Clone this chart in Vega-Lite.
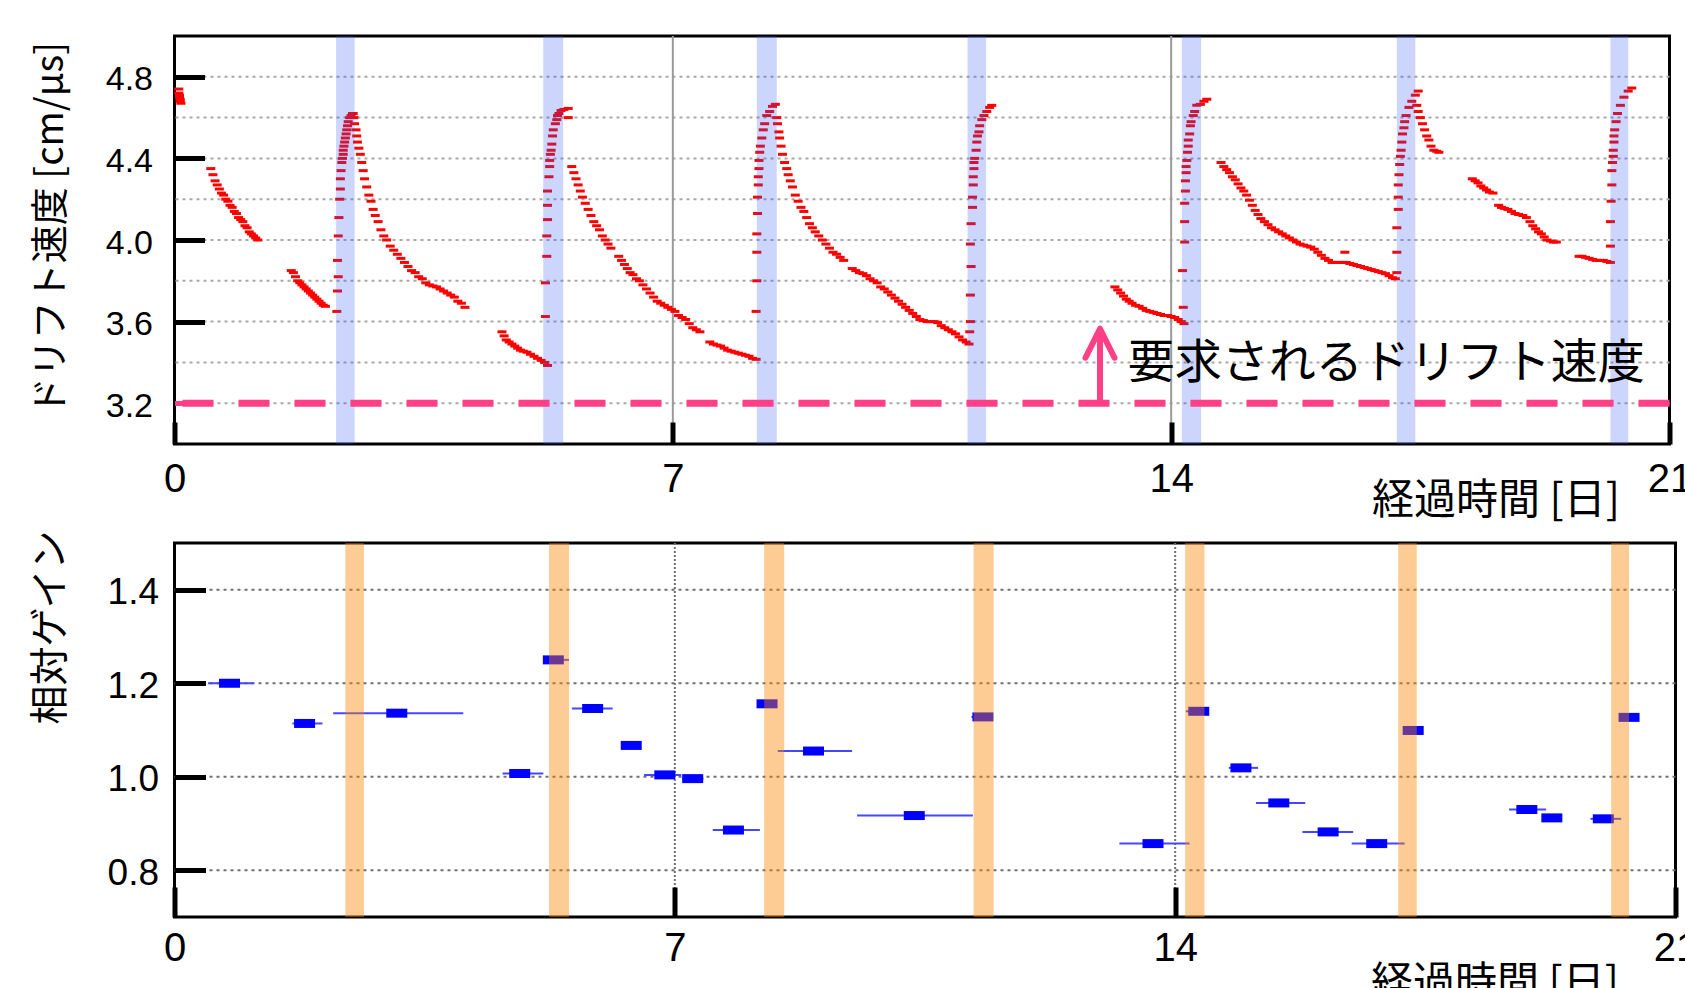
{
"$schema":"https://vega.github.io/schema/vega-lite/v6.json",
"padding":{"left":29.5,"top":33,"right":0,"bottom":0},"autosize":{"type":"pad"},"background":"white",
"bounds":"flush","spacing":99,
"config":{"view":{"stroke":"black","strokeWidth":3},"axis":{"labelColor":"black","titleColor":"black","tickColor":"black","domain":false,"grid":false,"labelFont":"Liberation Sans","titleFont":"Noto Sans CJK JP","titleFontWeight":"normal","labelFlush":false,"labelOverlap":false,"labelBound":false,"zindex":3,"tickCap":"butt"}},
"datasets":{
"drift":[
{"d":0.06,"v":4.74},{"d":0.06,"v":4.72},{"d":0.07,"v":4.71},{"d":0.07,"v":4.70},{"d":0.08,"v":4.69},{"d":0.08,"v":4.68},{"d":0.09,"v":4.67},
{"d":0.51,"v":4.35},{"d":0.54,"v":4.32},{"d":0.57,"v":4.29},{"d":0.60,"v":4.27},{"d":0.63,"v":4.25},{"d":0.66,"v":4.23},{"d":0.69,"v":4.22},{"d":0.72,"v":4.20},{"d":0.75,"v":4.19},{"d":0.78,"v":4.17},{"d":0.81,"v":4.16},{"d":0.84,"v":4.14},{"d":0.87,"v":4.13},{"d":0.90,"v":4.11},{"d":0.93,"v":4.10},{"d":0.96,"v":4.09},{"d":0.99,"v":4.07},{"d":1.02,"v":4.06},{"d":1.05,"v":4.04},{"d":1.08,"v":4.03},{"d":1.11,"v":4.02},{"d":1.14,"v":4.01},{"d":1.17,"v":4.00},
{"d":1.64,"v":3.85},{"d":1.67,"v":3.84},{"d":1.70,"v":3.82},{"d":1.73,"v":3.80},{"d":1.76,"v":3.79},{"d":1.79,"v":3.78},{"d":1.82,"v":3.77},{"d":1.85,"v":3.76},{"d":1.88,"v":3.75},{"d":1.91,"v":3.74},{"d":1.94,"v":3.73},{"d":1.97,"v":3.72},{"d":2.00,"v":3.71},{"d":2.03,"v":3.70},{"d":2.06,"v":3.69},{"d":2.09,"v":3.68},{"d":2.12,"v":3.675},
{"d":2.28,"v":3.65},{"d":2.29,"v":3.75},{"d":2.30,"v":3.82},{"d":2.29,"v":3.90},{"d":2.30,"v":4.02},{"d":2.31,"v":4.11},{"d":2.32,"v":4.20},{"d":2.33,"v":4.25},{"d":2.33,"v":4.30},{"d":2.34,"v":4.34},{"d":2.35,"v":4.38},{"d":2.36,"v":4.40},{"d":2.37,"v":4.42},{"d":2.37,"v":4.44},{"d":2.38,"v":4.46},{"d":2.39,"v":4.48},{"d":2.40,"v":4.50},{"d":2.41,"v":4.52},{"d":2.42,"v":4.54},{"d":2.43,"v":4.56},{"d":2.44,"v":4.58},{"d":2.46,"v":4.60},{"d":2.48,"v":4.61},{"d":2.50,"v":4.62},
{"d":2.51,"v":4.62},{"d":2.52,"v":4.60},{"d":2.53,"v":4.57},{"d":2.55,"v":4.54},{"d":2.56,"v":4.51},{"d":2.57,"v":4.48},{"d":2.59,"v":4.45},{"d":2.61,"v":4.42},{"d":2.63,"v":4.38},{"d":2.65,"v":4.34},{"d":2.67,"v":4.30},{"d":2.70,"v":4.26},{"d":2.73,"v":4.22},{"d":2.76,"v":4.19},{"d":2.79,"v":4.15},{"d":2.82,"v":4.12},{"d":2.86,"v":4.09},{"d":2.90,"v":4.05},{"d":2.94,"v":4.02},{"d":2.98,"v":4.00},{"d":3.03,"v":3.97},{"d":3.08,"v":3.95},{"d":3.13,"v":3.93},{"d":3.18,"v":3.91},{"d":3.23,"v":3.89},{"d":3.28,"v":3.87},{"d":3.33,"v":3.85},{"d":3.38,"v":3.84},{"d":3.43,"v":3.82},{"d":3.48,"v":3.81},{"d":3.53,"v":3.79},{"d":3.58,"v":3.78},{"d":3.63,"v":3.775},{"d":3.68,"v":3.77},{"d":3.73,"v":3.76},{"d":3.78,"v":3.75},{"d":3.83,"v":3.74},{"d":3.88,"v":3.73},{"d":3.93,"v":3.72},{"d":3.98,"v":3.70},{"d":4.03,"v":3.69},{"d":4.08,"v":3.67},
{"d":4.60,"v":3.55},{"d":4.63,"v":3.53},{"d":4.66,"v":3.51},{"d":4.70,"v":3.50},{"d":4.74,"v":3.49},{"d":4.78,"v":3.48},{"d":4.82,"v":3.47},{"d":4.86,"v":3.46},{"d":4.90,"v":3.455},{"d":4.95,"v":3.45},{"d":5.00,"v":3.44},{"d":5.05,"v":3.43},{"d":5.10,"v":3.42},{"d":5.15,"v":3.41},{"d":5.20,"v":3.40},{"d":5.24,"v":3.385},
{"d":5.21,"v":3.625},{"d":5.21,"v":3.79},{"d":5.23,"v":3.92},{"d":5.23,"v":4.02},{"d":5.24,"v":4.10},{"d":5.24,"v":4.17},{"d":5.24,"v":4.24},{"d":5.26,"v":4.31},{"d":5.27,"v":4.36},{"d":5.27,"v":4.39},{"d":5.28,"v":4.42},{"d":5.29,"v":4.44},{"d":5.30,"v":4.47},{"d":5.31,"v":4.51},{"d":5.32,"v":4.54},{"d":5.35,"v":4.57},{"d":5.37,"v":4.59},{"d":5.38,"v":4.61},{"d":5.40,"v":4.62},{"d":5.43,"v":4.635},{"d":5.47,"v":4.64},{"d":5.53,"v":4.645},{"d":5.53,"v":4.60},
{"d":5.58,"v":4.36},{"d":5.61,"v":4.33},{"d":5.64,"v":4.30},{"d":5.67,"v":4.27},{"d":5.70,"v":4.24},{"d":5.73,"v":4.21},{"d":5.77,"v":4.18},{"d":5.81,"v":4.15},{"d":5.85,"v":4.12},{"d":5.89,"v":4.09},{"d":5.93,"v":4.07},{"d":5.97,"v":4.05},{"d":6.01,"v":4.02},{"d":6.05,"v":4.00},{"d":6.09,"v":3.98},{"d":6.13,"v":3.96},
{"d":6.24,"v":3.92},{"d":6.28,"v":3.90},{"d":6.32,"v":3.88},{"d":6.36,"v":3.86},{"d":6.40,"v":3.84},{"d":6.44,"v":3.83},{"d":6.49,"v":3.81},{"d":6.53,"v":3.80},{"d":6.58,"v":3.78},{"d":6.63,"v":3.76},{"d":6.68,"v":3.74},{"d":6.73,"v":3.72},{"d":6.78,"v":3.70},{"d":6.83,"v":3.69},{"d":6.88,"v":3.68},{"d":6.93,"v":3.67},{"d":6.98,"v":3.66},{"d":7.03,"v":3.65},{"d":7.08,"v":3.63},{"d":7.13,"v":3.62},{"d":7.18,"v":3.61},{"d":7.23,"v":3.59},{"d":7.28,"v":3.57},{"d":7.33,"v":3.56},{"d":7.38,"v":3.55},
{"d":7.52,"v":3.50},{"d":7.57,"v":3.49},{"d":7.62,"v":3.485},{"d":7.67,"v":3.48},{"d":7.72,"v":3.47},{"d":7.77,"v":3.46},{"d":7.82,"v":3.455},{"d":7.87,"v":3.45},{"d":7.92,"v":3.445},{"d":7.97,"v":3.44},{"d":8.02,"v":3.435},{"d":8.07,"v":3.43},{"d":8.12,"v":3.42},{"d":8.17,"v":3.415},
{"d":8.17,"v":3.65},{"d":8.18,"v":3.80},{"d":8.18,"v":3.94},{"d":8.18,"v":4.03},{"d":8.19,"v":4.13},{"d":8.19,"v":4.21},{"d":8.20,"v":4.27},{"d":8.20,"v":4.31},{"d":8.21,"v":4.35},{"d":8.21,"v":4.39},{"d":8.22,"v":4.43},{"d":8.23,"v":4.46},{"d":8.25,"v":4.50},{"d":8.27,"v":4.54},{"d":8.29,"v":4.57},{"d":8.32,"v":4.61},{"d":8.36,"v":4.63},{"d":8.40,"v":4.655},{"d":8.44,"v":4.665},
{"d":8.46,"v":4.60},{"d":8.47,"v":4.57},{"d":8.49,"v":4.53},{"d":8.50,"v":4.50},{"d":8.52,"v":4.46},{"d":8.54,"v":4.42},{"d":8.57,"v":4.38},{"d":8.60,"v":4.35},{"d":8.62,"v":4.32},{"d":8.65,"v":4.29},{"d":8.68,"v":4.26},{"d":8.72,"v":4.22},{"d":8.76,"v":4.19},{"d":8.80,"v":4.16},{"d":8.84,"v":4.14},{"d":8.88,"v":4.11},{"d":8.92,"v":4.08},{"d":8.96,"v":4.06},{"d":9.00,"v":4.04},{"d":9.05,"v":4.02},{"d":9.10,"v":4.00},{"d":9.15,"v":3.98},{"d":9.20,"v":3.96},{"d":9.25,"v":3.94},{"d":9.30,"v":3.93},{"d":9.35,"v":3.915},{"d":9.40,"v":3.90},
{"d":9.52,"v":3.86},{"d":9.57,"v":3.85},{"d":9.62,"v":3.84},{"d":9.67,"v":3.835},{"d":9.72,"v":3.825},{"d":9.77,"v":3.81},{"d":9.82,"v":3.80},{"d":9.87,"v":3.79},{"d":9.92,"v":3.77},{"d":9.97,"v":3.76},{"d":10.02,"v":3.745},{"d":10.07,"v":3.73},{"d":10.12,"v":3.715},{"d":10.17,"v":3.70},{"d":10.22,"v":3.685},{"d":10.27,"v":3.67},{"d":10.32,"v":3.655},{"d":10.37,"v":3.64},{"d":10.42,"v":3.625},{"d":10.47,"v":3.61},{"d":10.52,"v":3.605},{"d":10.57,"v":3.60},{"d":10.62,"v":3.60},{"d":10.67,"v":3.60},{"d":10.72,"v":3.595},{"d":10.77,"v":3.58},{"d":10.82,"v":3.57},{"d":10.87,"v":3.56},{"d":10.92,"v":3.55},{"d":10.97,"v":3.54},{"d":11.02,"v":3.525},{"d":11.07,"v":3.51},{"d":11.12,"v":3.50},{"d":11.16,"v":3.49},
{"d":11.17,"v":3.55},{"d":11.18,"v":3.60},{"d":11.18,"v":3.73},{"d":11.19,"v":3.87},{"d":11.18,"v":3.98},{"d":11.19,"v":4.08},{"d":11.21,"v":4.16},{"d":11.21,"v":4.21},{"d":11.22,"v":4.27},{"d":11.22,"v":4.31},{"d":11.23,"v":4.35},{"d":11.23,"v":4.38},{"d":11.24,"v":4.40},{"d":11.26,"v":4.44},{"d":11.27,"v":4.48},{"d":11.28,"v":4.51},{"d":11.30,"v":4.53},{"d":11.31,"v":4.56},{"d":11.34,"v":4.59},{"d":11.37,"v":4.61},{"d":11.41,"v":4.63},{"d":11.45,"v":4.65},{"d":11.48,"v":4.66},
{"d":13.21,"v":3.77},{"d":13.25,"v":3.755},{"d":13.29,"v":3.74},{"d":13.33,"v":3.725},{"d":13.37,"v":3.71},{"d":13.41,"v":3.70},{"d":13.45,"v":3.69},{"d":13.50,"v":3.68},{"d":13.55,"v":3.675},{"d":13.60,"v":3.665},{"d":13.65,"v":3.655},{"d":13.70,"v":3.65},{"d":13.75,"v":3.645},{"d":13.80,"v":3.64},{"d":13.85,"v":3.635},{"d":13.90,"v":3.63},{"d":13.95,"v":3.63},{"d":14.00,"v":3.625},{"d":14.05,"v":3.62},{"d":14.10,"v":3.61},{"d":14.14,"v":3.60},{"d":14.18,"v":3.59},
{"d":14.17,"v":3.67},{"d":14.16,"v":3.85},{"d":14.19,"v":3.99},{"d":14.19,"v":4.09},{"d":14.19,"v":4.18},{"d":14.20,"v":4.24},{"d":14.20,"v":4.29},{"d":14.21,"v":4.33},{"d":14.21,"v":4.36},{"d":14.22,"v":4.39},{"d":14.23,"v":4.43},{"d":14.24,"v":4.46},{"d":14.24,"v":4.49},{"d":14.26,"v":4.52},{"d":14.27,"v":4.56},{"d":14.28,"v":4.58},{"d":14.31,"v":4.61},{"d":14.33,"v":4.63},{"d":14.36,"v":4.66},{"d":14.41,"v":4.665},{"d":14.46,"v":4.68},{"d":14.50,"v":4.69},
{"d":14.70,"v":4.38},{"d":14.74,"v":4.36},{"d":14.78,"v":4.345},{"d":14.82,"v":4.33},{"d":14.86,"v":4.31},{"d":14.90,"v":4.295},{"d":14.94,"v":4.275},{"d":14.98,"v":4.255},{"d":15.02,"v":4.24},{"d":15.06,"v":4.22},{"d":15.10,"v":4.195},{"d":15.14,"v":4.17},{"d":15.18,"v":4.145},{"d":15.22,"v":4.125},{"d":15.26,"v":4.105},{"d":15.31,"v":4.09},{"d":15.36,"v":4.075},{"d":15.41,"v":4.06},{"d":15.46,"v":4.05},{"d":15.51,"v":4.04},{"d":15.56,"v":4.03},{"d":15.61,"v":4.02},{"d":15.66,"v":4.01},{"d":15.71,"v":4.00},{"d":15.76,"v":3.99},{"d":15.81,"v":3.98},{"d":15.86,"v":3.975},{"d":15.91,"v":3.97},{"d":15.96,"v":3.965},{"d":16.01,"v":3.955},{"d":16.06,"v":3.94},{"d":16.11,"v":3.925},{"d":16.16,"v":3.91},{"d":16.21,"v":3.90},{"d":16.26,"v":3.89},{"d":16.31,"v":3.89},{"d":16.36,"v":3.89},{"d":16.41,"v":3.89},{"d":16.46,"v":3.89},{"d":16.51,"v":3.885},{"d":16.56,"v":3.88},{"d":16.61,"v":3.875},{"d":16.66,"v":3.87},{"d":16.71,"v":3.865},{"d":16.76,"v":3.86},{"d":16.81,"v":3.855},{"d":16.86,"v":3.85},{"d":16.91,"v":3.845},{"d":16.96,"v":3.84},{"d":17.01,"v":3.835},{"d":17.06,"v":3.825},{"d":17.11,"v":3.815},{"d":17.15,"v":3.81},
{"d":16.44,"v":3.94},
{"d":17.17,"v":3.84},{"d":17.17,"v":3.94},{"d":17.17,"v":4.06},{"d":17.19,"v":4.15},{"d":17.19,"v":4.21},{"d":17.19,"v":4.27},{"d":17.20,"v":4.32},{"d":17.21,"v":4.37},{"d":17.22,"v":4.41},{"d":17.23,"v":4.44},{"d":17.24,"v":4.48},{"d":17.25,"v":4.52},{"d":17.27,"v":4.55},{"d":17.28,"v":4.58},{"d":17.30,"v":4.61},{"d":17.34,"v":4.65},{"d":17.38,"v":4.68},{"d":17.43,"v":4.71},{"d":17.47,"v":4.73},
{"d":17.45,"v":4.66},{"d":17.47,"v":4.63},{"d":17.50,"v":4.60},{"d":17.53,"v":4.57},{"d":17.56,"v":4.54},{"d":17.59,"v":4.51},{"d":17.62,"v":4.49},{"d":17.65,"v":4.46},{"d":17.69,"v":4.44},{"d":17.73,"v":4.435},{"d":17.76,"v":4.43},
{"d":18.23,"v":4.30},{"d":18.27,"v":4.29},{"d":18.31,"v":4.28},{"d":18.35,"v":4.265},{"d":18.39,"v":4.255},{"d":18.43,"v":4.245},{"d":18.47,"v":4.235},{"d":18.52,"v":4.23},
{"d":18.60,"v":4.17},{"d":18.64,"v":4.16},{"d":18.68,"v":4.155},{"d":18.73,"v":4.15},{"d":18.78,"v":4.14},{"d":18.83,"v":4.13},{"d":18.88,"v":4.125},{"d":18.94,"v":4.12},{"d":18.99,"v":4.11},{"d":19.04,"v":4.09},{"d":19.08,"v":4.07},{"d":19.12,"v":4.055},{"d":19.16,"v":4.04},{"d":19.20,"v":4.03},{"d":19.24,"v":4.015},{"d":19.28,"v":4.00},{"d":19.33,"v":3.995},{"d":19.37,"v":3.99},{"d":19.41,"v":3.99},
{"d":19.73,"v":3.92},{"d":19.77,"v":3.92},{"d":19.82,"v":3.915},{"d":19.87,"v":3.91},{"d":19.92,"v":3.905},{"d":19.97,"v":3.90},{"d":20.02,"v":3.90},{"d":20.07,"v":3.90},{"d":20.12,"v":3.895},{"d":20.17,"v":3.89},
{"d":20.17,"v":3.97},{"d":20.17,"v":4.09},{"d":20.18,"v":4.19},{"d":20.19,"v":4.27},{"d":20.19,"v":4.34},{"d":20.20,"v":4.38},{"d":20.21,"v":4.41},{"d":20.21,"v":4.44},{"d":20.22,"v":4.48},{"d":20.22,"v":4.51},{"d":20.23,"v":4.54},{"d":20.25,"v":4.58},{"d":20.27,"v":4.62},{"d":20.31,"v":4.66},{"d":20.36,"v":4.70},{"d":20.42,"v":4.73},{"d":20.47,"v":4.745}
],
"gain":[
{"d":0.77,"v":1.200,"lo":0.47,"hi":1.11},
{"d":1.82,"v":1.114,"lo":1.65,"hi":2.07},
{"d":3.11,"v":1.136,"lo":2.22,"hi":4.04},
{"d":4.83,"v":1.007,"lo":4.59,"hi":5.16},
{"d":5.30,"v":1.250,"lo":5.17,"hi":5.52},
{"d":5.85,"v":1.146,"lo":5.56,"hi":6.13},
{"d":6.39,"v":1.067,"lo":6.30,"hi":6.48},
{"d":6.86,"v":1.004,"lo":6.57,"hi":7.09},
{"d":7.25,"v":0.996,"lo":7.10,"hi":7.40},
{"d":7.82,"v":0.886,"lo":7.53,"hi":8.19},
{"d":8.29,"v":1.156,"lo":8.15,"hi":8.38},
{"d":8.94,"v":1.055,"lo":8.44,"hi":9.48},
{"d":10.35,"v":0.917,"lo":9.55,"hi":11.17},
{"d":11.31,"v":1.128,"lo":11.15,"hi":11.42},
{"d":13.69,"v":0.857,"lo":13.22,"hi":14.20},
{"d":14.33,"v":1.140,"lo":14.15,"hi":14.45},
{"d":14.92,"v":1.019,"lo":14.75,"hi":15.16},
{"d":15.45,"v":0.944,"lo":15.13,"hi":15.82},
{"d":16.14,"v":0.882,"lo":15.78,"hi":16.49},
{"d":16.82,"v":0.857,"lo":16.47,"hi":17.21},
{"d":17.33,"v":1.099,"lo":17.20,"hi":17.45},
{"d":18.92,"v":0.930,"lo":18.67,"hi":19.19},
{"d":19.27,"v":0.912,"lo":19.15,"hi":19.40},
{"d":19.99,"v":0.910,"lo":19.81,"hi":20.24},
{"d":20.35,"v":1.127,"lo":20.22,"hi":20.45}
],
"bandsTop":[{"a":2.27,"b":2.53},{"a":5.18,"b":5.46},{"a":8.18,"b":8.46},{"a":11.14,"b":11.40},{"a":14.15,"b":14.42},{"a":17.17,"b":17.43},{"a":20.17,"b":20.42}],
"bandsBot":[{"a":2.39,"b":2.65},{"a":5.24,"b":5.52},{"a":8.25,"b":8.53},{"a":11.18,"b":11.46},{"a":14.14,"b":14.41},{"a":17.12,"b":17.38},{"a":20.10,"b":20.35}],
"gridTop":[{"v":3.2},{"v":3.4},{"v":3.6},{"v":3.8},{"v":4.0},{"v":4.2},{"v":4.4},{"v":4.6},{"v":4.8}],
"gridBot":[{"v":0.8},{"v":1.0},{"v":1.2},{"v":1.4}],
"vlines":[{"d":7},{"d":14}],
"req":[{"v":3.2}],
"arrow":[{"d":13.0,"v0":3.2,"v1":3.565}],
"note":[{"d":13.39,"v":3.39,"label":"要求されるドリフト速度"}]
},
"vconcat":[
{"width":1495,"height":408,"layer":[
 {"data":{"name":"gridTop"},"mark":{"type":"rule","color":"#a8a8a8","strokeWidth":2,"strokeDash":[3,4]},
  "encoding":{"y":{"field":"v","type":"quantitative","scale":{"domain":[3,5],"nice":false,"zero":false}}}},
 {"data":{"name":"vlines"},"mark":{"type":"rule","color":"#9a9a9a","strokeWidth":2},
  "encoding":{"x":{"field":"d","type":"quantitative","scale":{"domain":[0,21],"nice":false,"zero":false}}}},
 {"data":{"name":"drift"},"mark":{"type":"tick","orient":"horizontal","size":9,"thickness":3,"color":"#ff0000","opacity":1},
  "encoding":{"x":{"field":"d","type":"quantitative","scale":{"domain":[0,21],"nice":false,"zero":false},
     "axis":{"orient":"bottom","offset":-22,"values":[0,7,14,21],"format":"d","tickSize":22,"tickWidth":5,"labelFontSize":40,"labelPadding":15,"title":"経過時間 [日]","titleFontSize":42,"titleX":1321,"titleY":78,"titleAlign":"center","titleBaseline":"middle","titleAngle":0,"zindex":3}},
   "y":{"field":"v","type":"quantitative","scale":{"domain":[3,5],"nice":false,"zero":false},
     "axis":{"orient":"left","offset":-30,"values":[3.2,3.6,4.0,4.4,4.8],"format":".1f","tickSize":30,"tickWidth":5,"tickColor":{"condition":{"test":"datum.value < 3.3","value":"#ff3f86"},"value":"black"},"labelFontSize":34,"labelPadding":22,"labelOffset":3,"title":"ドリフト速度 [cm/μs]","titleFontSize":38,"titleX":-153,"titleY":192,"titleAngle":-90,"titleAlign":"center","titleBaseline":"middle","zindex":3}}}},
 {"data":{"name":"bandsTop"},"mark":{"type":"rect","color":"#3357ef","opacity":0.25},
  "encoding":{"x":{"field":"a","type":"quantitative","scale":{"domain":[0,21],"nice":false,"zero":false}},"x2":{"field":"b"}}},
 {"data":{"name":"req"},"mark":{"type":"rule","color":"#ff3f86","strokeWidth":7,"strokeDash":[31,25]},
  "encoding":{"y":{"field":"v","type":"quantitative","scale":{"domain":[3,5],"nice":false,"zero":false}}}},
 {"data":{"name":"arrow"},"mark":{"type":"rule","color":"#ff3f86","strokeWidth":6},
  "encoding":{"x":{"field":"d","type":"quantitative","scale":{"domain":[0,21],"nice":false,"zero":false}},
   "y":{"field":"v0","type":"quantitative","scale":{"domain":[3,5],"nice":false,"zero":false}},"y2":{"field":"v1"}}},
 {"data":{"name":"arrow"},"mark":{"type":"point","shape":"M-1,2L0,0L1,2","size":841,"filled":false,"stroke":"#ff3f86","strokeWidth":6,"strokeCap":"round","strokeJoin":"round","opacity":1},
  "encoding":{"x":{"field":"d","type":"quantitative","scale":{"domain":[0,21],"nice":false,"zero":false}},
   "y":{"field":"v1","type":"quantitative","scale":{"domain":[3,5],"nice":false,"zero":false}}}},
 {"data":{"name":"note"},"mark":{"type":"text","align":"left","baseline":"middle","fontSize":47,"font":"Noto Sans CJK JP","color":"black"},
  "encoding":{"x":{"field":"d","type":"quantitative","scale":{"domain":[0,21],"nice":false,"zero":false}},
   "y":{"field":"v","type":"quantitative","scale":{"domain":[3,5],"nice":false,"zero":false}},"text":{"field":"label"}}}
]},
{"width":1501,"height":374,"layer":[
 {"data":{"name":"gridBot"},"mark":{"type":"rule","color":"#707070","strokeWidth":2,"strokeDash":[3,4]},
  "encoding":{"y":{"field":"v","type":"quantitative","scale":{"domain":[0.7,1.5],"nice":false,"zero":false}}}},
 {"data":{"name":"vlines"},"mark":{"type":"rule","color":"#707070","strokeWidth":2,"strokeDash":[2,2]},
  "encoding":{"x":{"field":"d","type":"quantitative","scale":{"domain":[0,21],"nice":false,"zero":false}}}},
 {"data":{"name":"gain"},"mark":{"type":"rule","color":"#4646ff","strokeWidth":2},
  "encoding":{"x":{"field":"lo","type":"quantitative","scale":{"domain":[0,21],"nice":false,"zero":false}},"x2":{"field":"hi"},
   "y":{"field":"v","type":"quantitative","scale":{"domain":[0.7,1.5],"nice":false,"zero":false}}}},
 {"data":{"name":"gain"},"mark":{"type":"tick","orient":"horizontal","size":21,"thickness":9,"color":"#0000ff","opacity":1},
  "encoding":{"x":{"field":"d","type":"quantitative","scale":{"domain":[0,21],"nice":false,"zero":false},
     "axis":{"orient":"bottom","offset":-30,"values":[0,7,14,21],"format":"d","tickSize":30,"tickWidth":5,"labelFontSize":40,"labelPadding":11,"title":"経過時間 [日]","titleFontSize":42,"titleX":1320,"titleY":96,"titleAlign":"center","titleBaseline":"middle","titleAngle":0,"zindex":3}},
   "y":{"field":"v","type":"quantitative","scale":{"domain":[0.7,1.5],"nice":false,"zero":false},
     "axis":{"orient":"left","offset":-31,"values":[0.8,1.0,1.2,1.4],"format":".1f","tickSize":31,"tickWidth":5,"labelFontSize":37,"labelPadding":16,"labelOffset":3,"title":"相対ゲイン","titleFontSize":39,"titleX":-155,"titleY":84,"titleAngle":-90,"titleAlign":"center","titleBaseline":"middle","zindex":3}}}},
 {"data":{"name":"bandsBot"},"mark":{"type":"rect","color":"#f98600","opacity":0.42},
  "encoding":{"x":{"field":"a","type":"quantitative","scale":{"domain":[0,21],"nice":false,"zero":false}},"x2":{"field":"b"}}}
]}
]
}
